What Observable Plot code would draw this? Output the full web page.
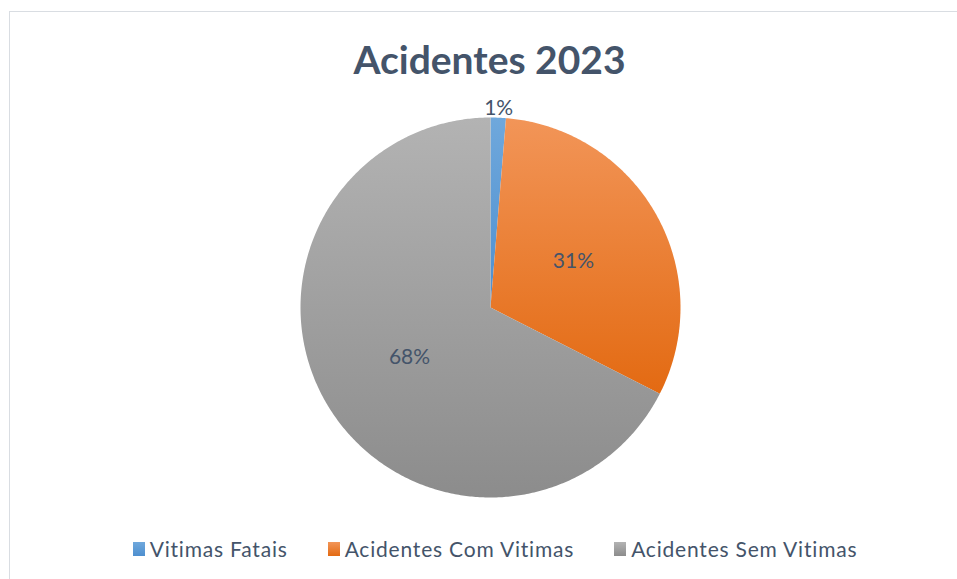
<!DOCTYPE html>
<html>
<head>
<meta charset="utf-8">
<script src="https://cdn.jsdelivr.net/npm/d3@7"></script>
<script src="https://cdn.jsdelivr.net/npm/@observablehq/plot@0.6"></script>
<style>
  html, body { margin: 0; padding: 0; background: #fff; }
  body { width: 957px; height: 579px; position: relative; overflow: hidden; font-family: Lato, "Open Sans", sans-serif; }
  #frame { position: absolute; left: 9px; top: 11px; width: 960px; height: 600px; border: 1.5px solid #D9DDE2; box-sizing: border-box; }
  #title { position: absolute; left: 0; width: 979px; top: 36px; text-align: center; font-weight: bold; font-size: 39px; color: #44546A; line-height: 46px; }
  #chart { position: absolute; left: 0; top: 97px; }
  #legend { position: absolute; left: 0; width: 990px; top: 536px; display: flex; justify-content: center; gap: 40px; font-size: 21px; letter-spacing: 0.8px; color: #44546A; line-height: 26px; }
  .item { display: flex; align-items: center; gap: 5px; }
  .sw { width: 12px; height: 14px; display: inline-block; }
</style>
</head>
<body>
<div id="frame"></div>
<div id="title">Acidentes 2023</div>
<div id="chart"></div>
<div id="legend"></div>
<script>
const categories = ["Vitimas Fatais", "Acidentes Com Vitimas", "Acidentes Sem Vitimas"];
const values = [1.3, 31.2, 67.5];
const percentLabels = ["1%", "31%", "68%"];
const colorsTop = ["#6FA8DC", "#F29558", "#B3B3B3"];
const colorsBottom = ["#4E8FCF", "#E36A12", "#8C8C8C"];

const gradIds = categories.map((c, i) => "grad" + i);

const pie = d3.pie().sort(null).value(d => d.value)(categories.map((c, i) => ({cat: c, value: values[i], i})));

// Build slice outlines in unit-circle coordinates
const slicePts = [];
pie.forEach(p => {
  const n = Math.max(4, Math.ceil((p.endAngle - p.startAngle) / 0.01));
  slicePts.push({i: p.data.i, x: 0, y: 0});
  for (let k = 0; k <= n; k++) {
    const a = p.startAngle + (p.endAngle - p.startAngle) * k / n;
    slicePts.push({i: p.data.i, x: Math.sin(a), y: Math.cos(a)});
  }
});

const labels = pie.map(p => {
  const a = (p.startAngle + p.endAngle) / 2;
  const share = p.data.value / d3.sum(values);
  const r = share < 0.05 ? 1.05 : 0.5;
  return {x: Math.sin(a) * r, y: Math.cos(a) * r, text: percentLabels[p.data.i]};
});

const defs = () => {
  const d = d3.create("svg:defs");
  gradIds.forEach((id, i) => {
    const g = d.append("linearGradient").attr("id", id).attr("x1", 0).attr("y1", 0).attr("x2", 0).attr("y2", 1);
    g.append("stop").attr("offset", "0%").attr("stop-color", colorsTop[i]);
    g.append("stop").attr("offset", "100%").attr("stop-color", colorsBottom[i]);
  });
  return d.node();
};

const chart = Plot.plot({
  width: 957,
  height: 420,
  marginLeft: 300,
  marginRight: 277,
  marginTop: 20,
  marginBottom: 20,
  x: {domain: [-1, 1], axis: null},
  y: {domain: [-1, 1], axis: null},
  style: {background: "transparent", overflow: "visible"},
  marks: [
    defs,
    ...gradIds.map((id, i) => Plot.line(slicePts.filter(d => d.i === i), {
      x: "x", y: "y", fill: `url(#${id})`, stroke: null, curve: "linear-closed"
    })),
    Plot.text(labels, {x: "x", y: "y", text: "text", fill: "#44546A", fontSize: 21, fontFamily: "Lato, 'Open Sans', sans-serif"})
  ]
});
document.getElementById("chart").appendChild(chart);

const legend = document.getElementById("legend");
categories.forEach((c, i) => {
  const item = document.createElement("div");
  item.className = "item";
  const sw = document.createElement("span");
  sw.className = "sw";
  sw.style.background = `linear-gradient(${colorsTop[i]}, ${colorsBottom[i]})`;
  const t = document.createElement("span");
  t.textContent = c;
  item.appendChild(sw);
  item.appendChild(t);
  legend.appendChild(item);
});
</script>
</body>
</html>
